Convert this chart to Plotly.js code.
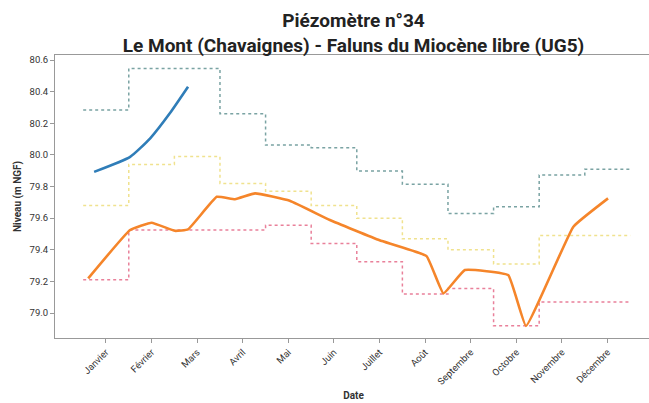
<!DOCTYPE html>
<html>
<head>
<meta charset="utf-8">
<script src="https://cdn.plot.ly/plotly-3.0.1.min.js"></script>
<style>
html,body{margin:0;padding:0;overflow:hidden;background:#fff;}
#chart{width:652px;height:403px;}
</style>
</head>
<body>
<div id="chart"></div>
<script>
// Month tick labels
const months = ["Janvier","Février","Mars","Avril","Mai","Juin","Juillet","Août","Septembre","Octobre","Novembre","Décembre"];

// Monthly step series (m NGF)
const maxMonthly    = [80.284, 80.547, 80.547, 80.26, 80.062, 80.045, 79.898, 79.814, 79.630, 79.672, 79.873, 79.910];
const medianMonthly = [79.68, 79.94, 79.99, 79.82, 79.77, 79.68, 79.60, 79.47, 79.40, 79.31, 79.49, 79.49];
const minMonthly    = [79.21, 79.525, 79.525, 79.525, 79.555, 79.44, 79.325, 79.12, 79.155, 78.92, 79.07, 79.07];

// Previous year measurements (month position, level)
const prevMonth = [0.61, 1.53, 2.0, 2.51, 2.8, 3.43, 3.83, 4.27, 5.03, 5.91, 7.0, 8.03, 8.4, 8.87, 9.82, 10.21, 11.25, 12.01];
const prevLevel = [79.219, 79.525, 79.571, 79.520, 79.529, 79.735, 79.72, 79.757, 79.71, 79.588, 79.46, 79.36, 79.124, 79.272, 79.24, 78.918, 79.546, 79.725];

// Current year measurements
const curMonth = [0.74, 1.53, 1.97, 2.40, 2.8];
const curLevel = [79.893, 79.988, 80.105, 80.263, 80.431];

function stepTrace(vals, color) {
  const x = vals.map((_, i) => i + 0.5).concat([vals.length + 0.5]);
  const y = vals.concat([vals[vals.length - 1]]);
  return {x: x, y: y, type: "scatter", mode: "lines",
          line: {shape: "hv", color: color, width: 1.5, dash: "dot"},
          hoverinfo: "skip", showlegend: false};
}

const data = [
  stepTrace(maxMonthly, "#7aa3a3"),
  stepTrace(medianMonthly, "#f0e28e"),
  stepTrace(minMonthly, "#e9809a"),
  {x: prevMonth, y: prevLevel, type: "scatter", mode: "lines",
   line: {color: "#f5852a", width: 2.6, shape: "spline", smoothing: 0.3}, showlegend: false},
  {x: curMonth, y: curLevel, type: "scatter", mode: "lines",
   line: {color: "#2f7db8", width: 2.6, shape: "spline", smoothing: 0.5}, showlegend: false}
];

const layout = {
  width: 652, height: 403,
  margin: {l: 55, r: 0, t: 55, b: 65},
  paper_bgcolor: "#fff", plot_bgcolor: "#fff",
  font: {family: "Roboto, 'DejaVu Sans', sans-serif", color: "#333"},
  title: {text: "<b>Piézomètre n°34</b><br><b>Le Mont (Chavaignes) - Faluns du Miocène libre (UG5)</b>",
          font: {size: 19, color: "#222"}, x: 0.5, xref: "paper", xanchor: "center",
          yref: "container", y: 0.932, yanchor: "middle"},
  xaxis: {
    automargin: false,
    range: [-0.118, 12.974],
    tickmode: "array",
    tickvals: months.map((_, i) => i + 1),
    ticktext: months,
    tickangle: -45,
    tickfont: {size: 9.5, color: "#333"},
    ticks: "outside", ticklen: 4, tickcolor: "#999",
    showgrid: false, zeroline: false,
    showline: true, mirror: true, linecolor: "#999", linewidth: 1,
    title: {text: "<b>Date</b>", font: {size: 10, color: "#333"}, standoff: 6}
  },
  yaxis: {
    automargin: false,
    range: [78.842, 80.632],
    tickvals: [79.0, 79.2, 79.4, 79.6, 79.8, 80.0, 80.2, 80.4, 80.6],
    ticktext: ["79.0","79.2","79.4","79.6","79.8","80.0","80.2","80.4","80.6"],
    tickfont: {size: 9.5, color: "#333"},
    ticks: "outside", ticklen: 4, tickcolor: "#999",
    showgrid: false, zeroline: false,
    showline: true, mirror: true, linecolor: "#999", linewidth: 1,
    title: {text: "<b>Niveau (m NGF)</b>", font: {size: 10, color: "#333"}, standoff: 6}
  }
};

Plotly.newPlot("chart", data, layout, {displayModeBar: false, staticPlot: true});
</script>
</body>
</html>
